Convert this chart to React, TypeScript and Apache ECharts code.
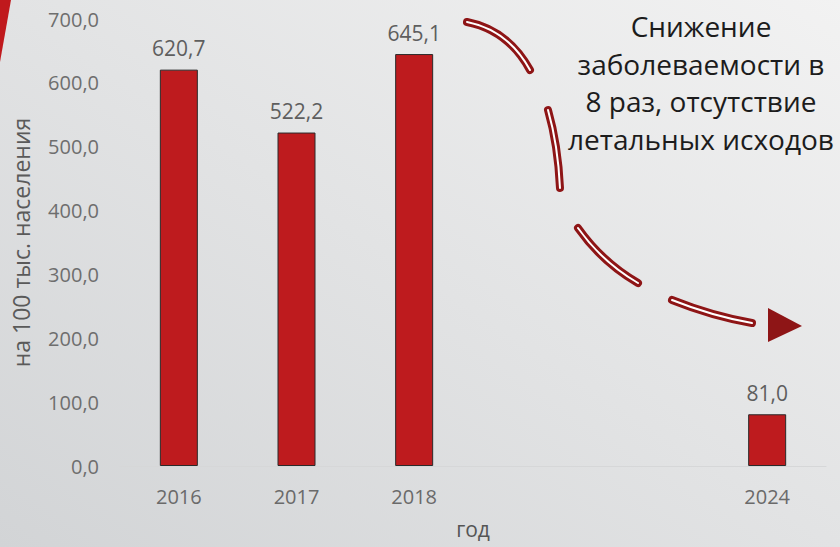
import React, { useEffect, useRef } from "react";
import * as echarts from "echarts";

const categories = ["2016", "2017", "2018", "", " ", "2024"];
const values: (number | null)[] = [620.7, 522.2, 645.1, null, null, 81.0];
const yMin = 0;
const yMax = 700;
const yInterval = 100;
const yAxisName = "на 100 тыс. населения";
const xAxisName = "год";
const noteLines = ["Снижение", "заболеваемости в", "8 раз, отсутствие", "летальных исходов"];

const fmt = (v: number) => v.toFixed(1).replace(".", ",");

const arrowSegs: number[][][] = [
  [[467, 22], [508, 30], [530, 70]],
  [[548, 110], [558, 145], [560, 188]],
  [[578, 228], [602, 262], [638, 283]],
  [[672, 300], [712, 316], [752, 323]],
];

export default function App() {
  const ref = useRef<HTMLDivElement>(null);
  useEffect(() => {
    if (!ref.current) return;
    const chart = echarts.init(ref.current, undefined, { renderer: "svg" });
    const dark = "#8e1516";
    const graphics: any[] = [
      {
        type: "polygon",
        shape: { points: [[0, 0], [11, 0], [0, 62]] },
        style: { fill: "#c0191d" },
        silent: true,
      },
    ];
    arrowSegs.forEach((s) => {
      graphics.push({
        type: "bezierCurve",
        shape: { x1: s[0][0], y1: s[0][1], cpx1: s[1][0], cpy1: s[1][1], x2: s[2][0], y2: s[2][1] },
        style: { stroke: dark, lineWidth: 8, lineCap: "round", fill: null },
        silent: true,
      });
      graphics.push({
        type: "bezierCurve",
        shape: { x1: s[0][0], y1: s[0][1], cpx1: s[1][0], cpy1: s[1][1], x2: s[2][0], y2: s[2][1] },
        style: { stroke: "#ffffff", lineWidth: 2, lineCap: "round", fill: null },
        silent: true,
      });
    });
    graphics.push({
      type: "polygon",
      shape: { points: [[768, 308], [802, 326], [768, 342]] },
      style: { fill: dark },
      silent: true,
    });
    graphics.push({
      type: "text",
      x: 701,
      y: 26 + (37.5 * (noteLines.length - 1)) / 2,
      style: {
        text: noteLines.join("\n"),
        font: '28px "Open Sans"',
        fill: "#1c1c1c",
        align: "center",
        verticalAlign: "middle",
        lineHeight: 37.5,
      },
      silent: true,
    });

    chart.setOption({
      animation: false,
      backgroundColor: new echarts.graphic.LinearGradient(0, 1, 1, 0, [
        { offset: 0, color: "#d2d4d6" },
        { offset: 1, color: "#f2f2f2" },
      ]),
      grid: { left: 120, right: 14, top: 19, bottom: 81, containLabel: false, outerBoundsMode: "none" },
      xAxis: {
        type: "category",
        data: categories,
        axisLine: { show: true, lineStyle: { color: "#d6d7d8", width: 1 } },
        axisTick: { show: false },
        axisLabel: { color: "#6a6a6a", fontSize: 20, fontFamily: "Open Sans", margin: 20 },
        name: xAxisName,
        nameLocation: "middle",
        nameGap: 63,
        nameTextStyle: { color: "#555555", fontSize: 21, lineHeight: 22, fontFamily: "Open Sans", verticalAlign: "middle" },
      },
      yAxis: {
        type: "value",
        min: yMin,
        max: yMax,
        interval: yInterval,
        axisLine: { show: false },
        axisTick: { show: false },
        splitLine: { show: false },
        axisLabel: { color: "#6e6e6e", fontSize: 20, fontFamily: "Open Sans", margin: 21, formatter: (v: number) => fmt(v) },
        name: yAxisName,
        nameLocation: "middle",
        nameGap: 99,
        nameTextStyle: { color: "#5a5a5a", fontSize: 23, fontFamily: "Open Sans", verticalAlign: "middle" },
      },
      series: [
        {
          type: "bar",
          data: values,
          barWidth: 38,
          itemStyle: { color: "#be1b1e", borderColor: "#2a2a2a", borderWidth: 1 },
          label: {
            show: true,
            position: "top",
            distance: 11,
            color: "#5e5e5e",
            fontSize: 21,
            fontFamily: "Open Sans",
            formatter: (p: any) => fmt(p.value),
          },
        },
      ],
      graphic: graphics,
    });
    return () => chart.dispose();
  }, []);
  return <div ref={ref} style={{ width: 840, height: 547, position: "fixed", left: 0, top: 0 }} />;
}
